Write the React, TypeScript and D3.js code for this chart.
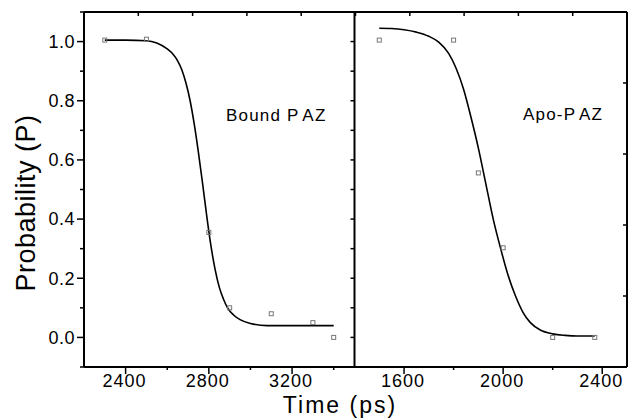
import React from "react";
import * as d3 from "d3";

// ---- data ----
const boundPointsX = [2300, 2500, 2800, 2900, 3100, 3300, 3400];
const boundPointsY = [1.005, 1.008, 0.355, 0.1, 0.08, 0.05, 0.0];

const boundCurveX = [2300, 2400, 2500, 2550, 2600, 2625, 2650, 2670, 2690, 2710, 2730, 2750, 2770, 2790, 2810, 2830, 2850, 2870, 2890, 2920, 2950, 3000, 3080, 3200, 3300, 3400];
const boundCurveY = [1.005, 1.005, 1.003, 0.995, 0.975, 0.96, 0.935, 0.905, 0.86, 0.8, 0.72, 0.625, 0.52, 0.41, 0.31, 0.23, 0.17, 0.13, 0.1, 0.075, 0.06, 0.047, 0.04, 0.04, 0.04, 0.04];

const apoPointsX = [1500, 1800, 1900, 2000, 2200, 2370];
const apoPointsY = [1.005, 1.005, 0.556, 0.303, 0.0, 0.0];

const apoCurveX = [1500, 1550, 1600, 1650, 1700, 1740, 1780, 1810, 1840, 1870, 1900, 1930, 1960, 1990, 2020, 2050, 2080, 2110, 2150, 2200, 2250, 2300, 2370];
const apoCurveY = [1.045, 1.044, 1.04, 1.032, 1.018, 0.998, 0.96, 0.91, 0.84, 0.745, 0.64, 0.52, 0.4, 0.3, 0.21, 0.14, 0.085, 0.05, 0.025, 0.012, 0.007, 0.005, 0.005];

const yMajorTicks = [0.0, 0.2, 0.4, 0.6, 0.8, 1.0];
const yMinorTicks = [-0.1, 0.1, 0.3, 0.5, 0.7, 0.9, 1.1];
const leftMajorTicks = [2400, 2800, 3200];
const leftMinorTicks = [2600, 3000, 3400];
const rightMajorTicks = [1600, 2000, 2400];
const rightMinorTicks = [1800, 2200];

const leftDomain = [2200, 3500];
const rightDomain = [1400, 2500];
const yDomain = [-0.1, 1.1];

const boundLabel = ["Bound P", "AZ"];
const apoLabel = ["Apo-P", "AZ"];
const xTitle = "Time (ps)";
const yTitle = "Probability (P)";

const FONT = "'Liberation Sans', Arial, Helvetica, sans-serif";

export default function App() {
  const W = 628, H = 420;
  const top = 12, bottom = 367, left = 84, mid = 354.5, right = 627;

  const y = d3.scaleLinear().domain(yDomain).range([bottom, top]);
  const xL = d3.scaleLinear().domain(leftDomain).range([left, mid]);
  const xR = d3.scaleLinear().domain(rightDomain).range([mid, right]);
  const topScale = d3.scaleLinear().domain([0, 10]).range([left, right]);
  const rightScale = d3.scaleLinear().domain([0, 5]).range([bottom, top]);

  const lineL = d3.line<number>().x((_, i) => xL(boundCurveX[i])).y((d) => y(d)).curve(d3.curveMonotoneX);
  const lineR = d3.line<number>().x((_, i) => xR(apoCurveX[i])).y((d) => y(d)).curve(d3.curveMonotoneX);

  const ms = 4;
  const markerStyle = { fill: "none", stroke: "#777", strokeWidth: 1 };

  return (
    <svg width={W} height={H} style={{ position: "absolute", left: 0, top: 0, background: "#fff" }} fontFamily={FONT}>
      <rect x={0} y={0} width={W} height={H} fill="#fff" />

      {/* curves */}
      <path d={lineL(boundCurveY) || ""} fill="none" stroke="#000" strokeWidth={1.6} />
      <path d={lineR(apoCurveY) || ""} fill="none" stroke="#000" strokeWidth={1.6} />

      {/* markers */}
      {boundPointsX.map((xv, i) => (
        <rect key={"bp" + i} x={xL(xv) - ms / 2} y={y(boundPointsY[i]) - ms / 2} width={ms} height={ms} {...markerStyle} />
      ))}
      {apoPointsX.map((xv, i) => (
        <rect key={"ap" + i} x={xR(xv) - ms / 2} y={y(apoPointsY[i]) - ms / 2} width={ms} height={ms} {...markerStyle} />
      ))}

      {/* frame */}
      <g stroke="#000" strokeWidth={2} fill="none">
        <line x1={left} y1={top} x2={right} y2={top} />
        <line x1={left} y1={bottom} x2={right} y2={bottom} />
        <line x1={left} y1={top} x2={left} y2={bottom} />
        <line x1={mid} y1={top} x2={mid} y2={bottom} />
        <line x1={right} y1={top} x2={right} y2={bottom} />
      </g>

      {/* left y ticks (outward) */}
      <g stroke="#000" strokeWidth={1.5}>
        {yMajorTicks.map((t) => (
          <line key={"ym" + t} x1={left - 7} x2={left} y1={y(t)} y2={y(t)} />
        ))}
        {yMinorTicks.map((t) => (
          <line key={"yn" + t} x1={left - 4} x2={left} y1={y(t)} y2={y(t)} />
        ))}
        {/* divider ticks pointing into left panel */}
        {[...yMajorTicks, ...yMinorTicks].map((t) => (
          <line key={"yd" + t} x1={mid - 4} x2={mid} y1={y(t)} y2={y(t)} />
        ))}
        {/* right edge ticks */}
        {rightScale.ticks(5).map((t) => (
          <line key={"yr" + t} x1={right - 4} x2={right} y1={rightScale(t)} y2={rightScale(t)} />
        ))}
        {/* top ticks */}
        {topScale.ticks(10).map((t) => (
          <line key={"tt" + t} x1={topScale(t)} x2={topScale(t)} y1={top} y2={top + 4} />
        ))}
        {/* bottom ticks */}
        {leftMajorTicks.map((t) => (
          <line key={"bl" + t} x1={xL(t)} x2={xL(t)} y1={bottom} y2={bottom + 7} />
        ))}
        {leftMinorTicks.map((t) => (
          <line key={"bln" + t} x1={xL(t)} x2={xL(t)} y1={bottom} y2={bottom + 3} />
        ))}
        {rightMajorTicks.map((t) => (
          <line key={"br" + t} x1={xR(t)} x2={xR(t)} y1={bottom} y2={bottom + 7} />
        ))}
        {rightMinorTicks.map((t) => (
          <line key={"brn" + t} x1={xR(t)} x2={xR(t)} y1={bottom} y2={bottom + 3} />
        ))}
      </g>

      {/* y tick labels */}
      <g fontSize={18} fill="#000" textAnchor="end" letterSpacing={0.5}>
        {yMajorTicks.map((t) => (
          <text key={"yl" + t} x={left - 9} y={y(t)} dy="0.35em">{d3.format(".1f")(t)}</text>
        ))}
      </g>

      {/* x tick labels */}
      <g fontSize={18} fill="#000" textAnchor="middle" letterSpacing={1}>
        {leftMajorTicks.map((t) => (
          <text key={"xl" + t} x={xL(t) - 1} y={387}>{t}</text>
        ))}
        {rightMajorTicks.map((t) => (
          <text key={"xr" + t} x={xR(t) - 1} y={387}>{t}</text>
        ))}
      </g>

      {/* panel labels */}
      <text x={226} y={120.5} fontSize={17} letterSpacing={1.2} fill="#000">
        <tspan>{boundLabel[0]}</tspan>
        <tspan dx={4}>{boundLabel[1]}</tspan>
      </text>
      <text x={523} y={119.5} fontSize={17} letterSpacing={1.2} fill="#000">
        <tspan>{apoLabel[0]}</tspan>
        <tspan dx={4}>{apoLabel[1]}</tspan>
      </text>

      {/* axis titles */}
      <text x={340} y={413} fontSize={23} letterSpacing={2} textAnchor="middle" fill="#000">{xTitle}</text>
      <text transform="translate(35,203) rotate(-90)" fontSize={27} letterSpacing={0.5} textAnchor="middle" fill="#000">{yTitle}</text>
    </svg>
  );
}
